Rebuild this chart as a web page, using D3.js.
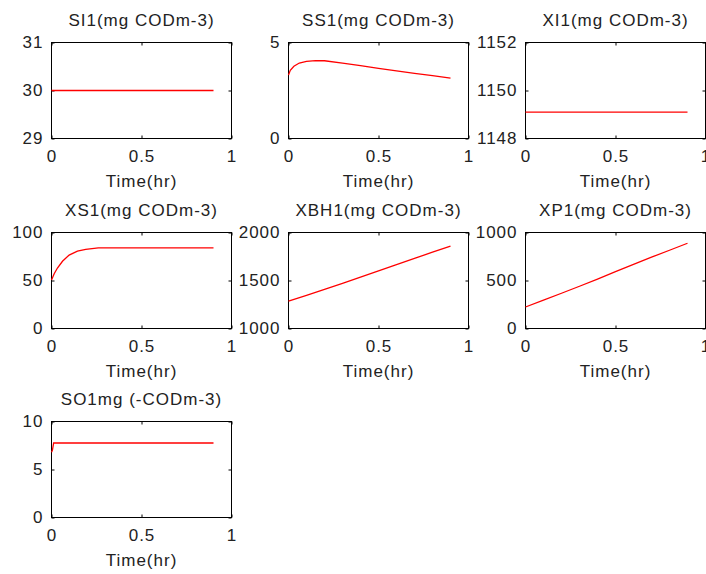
<!DOCTYPE html>
<html>
<head>
<meta charset="utf-8">
<script src="https://cdn.jsdelivr.net/npm/d3@7"></script>
<style>
  html, body { margin: 0; padding: 0; background: #fff; }
  svg { display: block; }
  text { font-family: "Liberation Sans", Arial, sans-serif; font-size: 17px; letter-spacing: 1px; fill: #222; }
</style>
</head>
<body>
<div id="chart"></div>
<script>
// ---- data ----
const titles = ["SI1(mg CODm-3)", "SS1(mg CODm-3)", "XI1(mg CODm-3)",
                "XS1(mg CODm-3)", "XBH1(mg CODm-3)", "XP1(mg CODm-3)",
                "SO1mg (-CODm-3)"];
const xLabel = "Time(hr)";
const xTicks = [0, 0.5, 1];
const xTickLabels = ["0", "0.5", "1"];
const yDomains = [[29, 31], [0, 5], [1148, 1152], [0, 100], [1000, 2000], [0, 1000], [0, 10]];
const yTicks = [[29, 30, 31], [0, 5], [1148, 1150, 1152], [0, 50, 100], [1000, 1500, 2000], [0, 500, 1000], [0, 5, 10]];

const seriesSI1 = [[0, 30], [0.9, 30]];
const seriesSS1 = [[0, 3.3], [0.01, 3.55], [0.03, 3.76], [0.06, 3.93], [0.1, 4.02], [0.15, 4.06],
                   [0.2, 4.05], [0.3, 3.93], [0.4, 3.79], [0.5, 3.65], [0.6, 3.52], [0.7, 3.39],
                   [0.8, 3.27], [0.9, 3.15]];
const seriesXI1 = [[0, 1149.1], [0.9, 1149.1]];
const seriesXS1 = [[0, 50.5], [0.015, 57], [0.033, 63], [0.061, 70], [0.098, 76.5], [0.144, 80.5],
                   [0.19, 82.5], [0.237, 83.5], [0.26, 84], [0.9, 84]];
const seriesXBH1 = [[0, 1285], [0.1, 1345], [0.2, 1408], [0.3, 1470], [0.4, 1535], [0.5, 1600],
                    [0.6, 1665], [0.7, 1730], [0.8, 1795], [0.9, 1857]];
const seriesXP1 = [[0, 224], [0.1, 295], [0.2, 367], [0.3, 440], [0.4, 515], [0.5, 592],
                   [0.6, 668], [0.7, 743], [0.8, 815], [0.9, 888]];
const seriesSO1 = [[0, 6.8], [0.005, 7.0], [0.012, 7.76], [0.9, 7.76]];
const allSeries = [seriesSI1, seriesSS1, seriesXI1, seriesXS1, seriesXBH1, seriesXP1, seriesSO1];

// ---- layout ----
const W = 706, H = 574;
const colLeft = [51.5, 288.5, 525.5];
const rowTop = [42.5, 232.5, 421.5];
const pw = 180, ph = 96;

const svg = d3.select("#chart").append("svg").attr("width", W).attr("height", H);

titles.forEach((t, i) => {
  const c = i % 3, r = Math.floor(i / 3);
  const g = svg.append("g").attr("transform", `translate(${colLeft[c]},${rowTop[r]})`);
  const x = d3.scaleLinear().domain([0, 1]).range([0, pw]);
  const y = d3.scaleLinear().domain(yDomains[i]).range([ph, 0]);

  // axes with inward ticks
  const bottom = g.append("g").attr("transform", `translate(0,${ph})`)
    .call(d3.axisBottom(x).tickValues(xTicks).tickFormat((d, k) => xTickLabels[k])
      .tickSizeInner(-3).tickSizeOuter(0).tickPadding(11));
  const top = g.append("g")
    .call(d3.axisTop(x).tickValues(xTicks).tickFormat("").tickSizeInner(-3).tickSizeOuter(0));
  const left = g.append("g")
    .call(d3.axisLeft(y).tickValues(yTicks[i]).tickFormat(d3.format("d"))
      .tickSizeInner(-3).tickSizeOuter(0).tickPadding(8));
  const right = g.append("g").attr("transform", `translate(${pw},0)`)
    .call(d3.axisRight(y).tickValues(yTicks[i]).tickFormat("").tickSizeInner(-3).tickSizeOuter(0));
  [bottom, top, left, right].forEach(a => {
    a.select(".domain").remove();
    a.selectAll("line").attr("stroke", "#000");
    a.selectAll("text").attr("font-family", null).attr("font-size", null).style("fill", "#222");
  });
  bottom.selectAll("text").attr("dy", null).attr("y", 23);
  left.selectAll("text").attr("dy", null).attr("y", 4.5);

  // box
  g.append("rect").attr("x", 0).attr("y", 0).attr("width", pw).attr("height", ph)
    .attr("fill", "none").attr("stroke", "#000").attr("stroke-width", 1);

  // data line
  g.append("path").datum(allSeries[i])
    .attr("fill", "none").attr("stroke", "#ff0000").attr("stroke-width", 1.3)
    .attr("d", d3.line().x(d => x(d[0])).y(d => y(d[1])));

  // title & x label
  g.append("text").attr("x", pw / 2).attr("y", -16.5).attr("text-anchor", "middle").text(t);
  g.append("text").attr("x", pw / 2).attr("y", ph + 48).attr("text-anchor", "middle").text(xLabel);
});
</script>
</body>
</html>
